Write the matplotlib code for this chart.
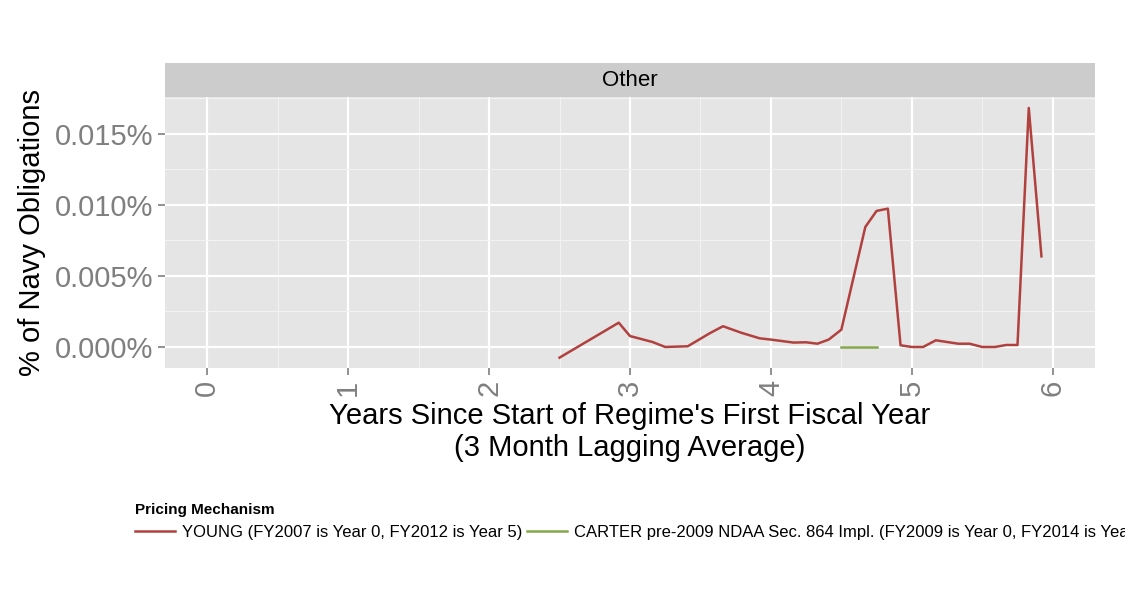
import matplotlib
matplotlib.use("Agg")
import matplotlib.pyplot as plt
from matplotlib.lines import Line2D
from matplotlib.ticker import FuncFormatter

plt.rcParams["font.family"] = ["Liberation Sans", "DejaVu Sans"]

# YOUNG series (years, share of obligations in %)
young_x = [2.50, 2.92, 3.00, 3.16, 3.25, 3.41, 3.57, 3.66, 3.79, 3.92, 4.00, 4.16,
           4.25, 4.33, 4.41, 4.50, 4.67, 4.75, 4.83, 4.92, 5.00, 5.08, 5.17, 5.33,
           5.41, 5.50, 5.59, 5.67, 5.75, 5.83, 5.92]
young_y = [-0.00075, 0.00171, 0.00077, 0.00035, 0.0, 0.00005, 0.00099, 0.00146, 0.0010,
           0.00061, 0.00052, 0.00031, 0.00033, 0.00023, 0.00052, 0.00122, 0.00845,
           0.00958, 0.00974, 0.00012, 0.0, 0.0, 0.00047, 0.00023, 0.00023, 0.0, 0.0,
           0.00014, 0.00014, 0.01683, 0.00638]
carter_x = [4.50, 4.58, 4.67, 4.75]
carter_y = [0.0, 0.0, 0.0, 0.0]

red = "#B0413E"
green = "#85A64B"

fig = plt.figure(figsize=(11.25, 6), dpi=100)
ax = fig.add_axes([165 / 1125, 1 - 368 / 600, 930 / 1125, 271 / 600])
strip = fig.add_axes([165 / 1125, 1 - 97 / 600, 930 / 1125, 34 / 600])
strip.set_facecolor("#CCCCCC")
strip.set_xticks([]); strip.set_yticks([])
for s in strip.spines.values():
    s.set_visible(False)
strip.text(0.5, 0.5, "Other", ha="center", va="center", fontsize=16, transform=strip.transAxes)

ax.set_facecolor("#E5E5E5")
for s in ax.spines.values():
    s.set_visible(False)
ax.plot(young_x, young_y, color=red, lw=1.8)
ax.plot(carter_x, carter_y, color=green, lw=1.8)

ax.set_xticks(range(7))
ax.set_xticks([i + 0.5 for i in range(-1, 7)], minor=True)
ax.set_yticks([0, 0.005, 0.010, 0.015])
ax.set_yticks([0.0025, 0.0075, 0.0125, -0.0025, 0.0175], minor=True)
ax.set_xlim(-0.3, 6.3)
ax.set_ylim(-0.00148, 0.0176)
ax.yaxis.set_major_formatter(FuncFormatter(lambda v, p: f"{v:.3f}%"))
ax.grid(which="major", color="white", lw=1.6)
ax.grid(which="minor", color="#F2F2F2", lw=0.8)
ax.set_axisbelow(True)
ax.tick_params(which="minor", length=0)
ax.tick_params(axis="both", which="major", colors="#7F7F7F", labelsize=21, length=5, width=1.2)
for lab in ax.get_xticklabels():
    lab.set_rotation(90)
    lab.set_va("top")
ax.set_xlabel("Years Since Start of Regime's First Fiscal Year\n(3 Month Lagging Average)",
              fontsize=21, labelpad=4)
ax.set_ylabel("% of Navy Obligations", fontsize=21, labelpad=6)

handles = [Line2D([], [], color=red, lw=1.8), Line2D([], [], color=green, lw=1.8)]
labels = ["YOUNG (FY2007 is Year 0, FY2012 is Year 5)",
          "CARTER pre-2009 NDAA Sec. 864 Impl. (FY2009 is Year 0, FY2014 is Year 5"]
leg = fig.legend(handles, labels, loc="lower left", bbox_to_anchor=(120 / 1125, 45 / 600),
                 ncol=2, frameon=False, fontsize=12, title="Pricing Mechanism",
                 title_fontproperties={"weight": "bold", "size": 11},
                 handlelength=2.4, columnspacing=0.3, handletextpad=0.4)
leg._legend_box.align = "left"

fig.savefig("out.png", dpi=100)
